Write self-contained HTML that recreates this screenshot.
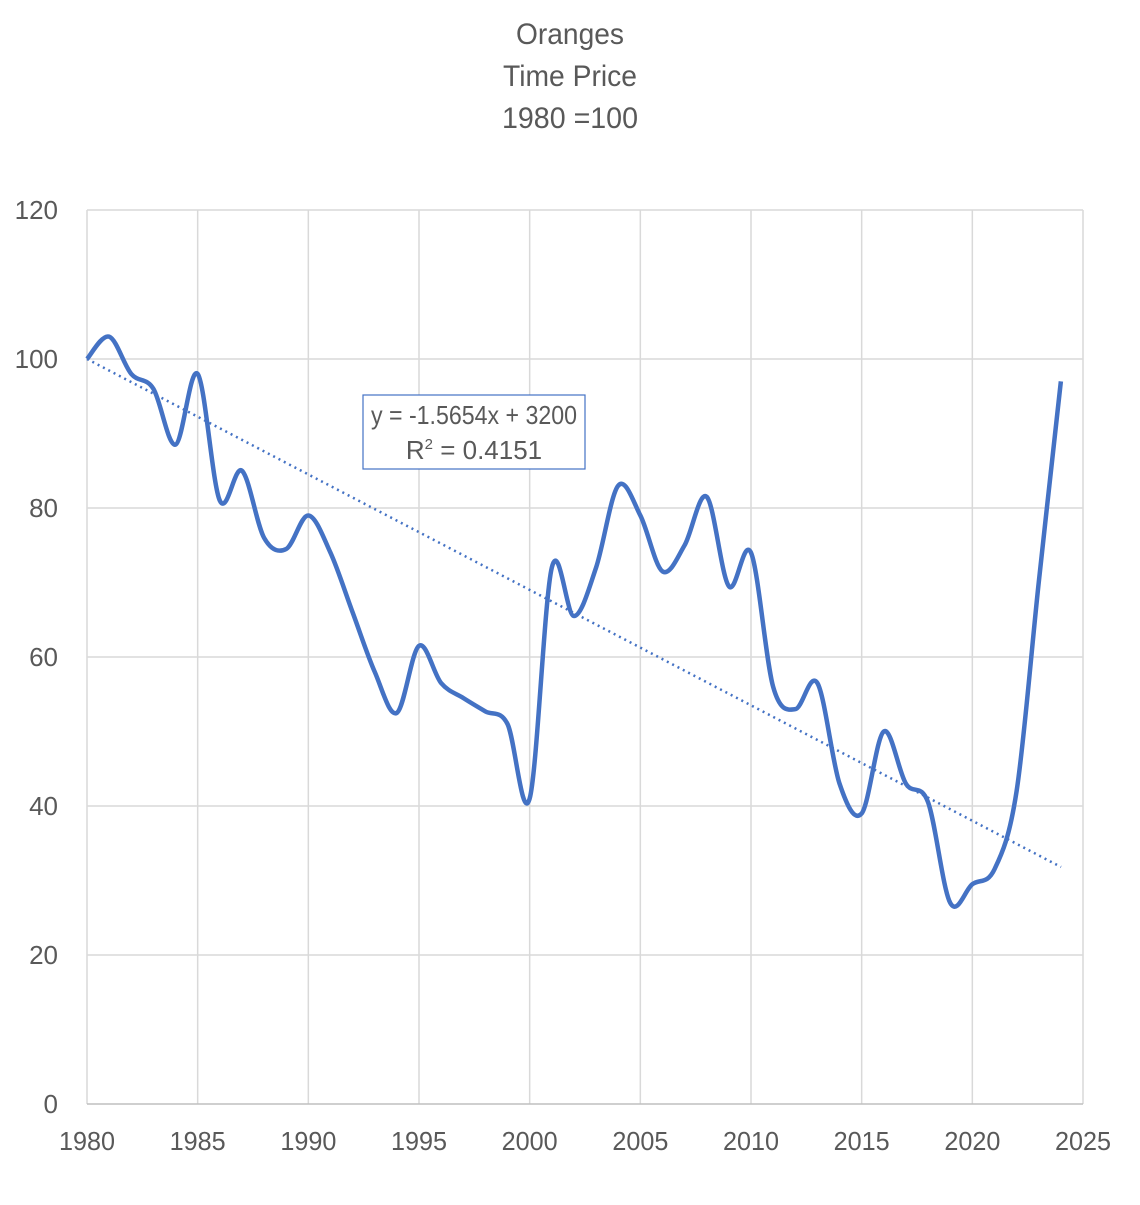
<!DOCTYPE html>
<html><head><meta charset="utf-8"><style>
body{margin:0;background:#fff}
svg text{font-family:"Liberation Sans",sans-serif;fill:#595959}
</style></head><body>
<svg id="s" width="1140" height="1200" xmlns="http://www.w3.org/2000/svg">
<rect width="1140" height="1200" fill="#fff"/>
<g text-anchor="middle" font-size="30">
<text x="570" y="44" textLength="108" lengthAdjust="spacingAndGlyphs">Oranges</text>
<text x="570" y="86" textLength="134" lengthAdjust="spacingAndGlyphs">Time Price</text>
<text x="570" y="128" textLength="136" lengthAdjust="spacingAndGlyphs">1980 =100</text>
</g>
<g id="grid" stroke="#d9d9d9" stroke-width="1.5"></g>
<g id="lab" font-size="26"></g>
<path id="trend" d="M87,359 L1061,867" stroke="#4472c4" stroke-width="2.5" stroke-dasharray="2,4" fill="none"/>
<path id="line" stroke="#4472c4" stroke-width="4.5" fill="none" stroke-linejoin="round"/>
<rect x="363" y="395" width="222" height="74" fill="#fff" stroke="#4472c4" stroke-width="1.2"/>
<g text-anchor="middle" font-size="26">
<text x="474" y="424" textLength="206" lengthAdjust="spacingAndGlyphs">y = -1.5654x + 3200</text>
<text x="474" y="459">R<tspan font-size="15" dy="-10">2</tspan><tspan dy="10"> = 0.4151</tspan></text>
</g>
</svg>
<script>
const X=y=>87+(y-1980)*996/45, Y=v=>1104-v*7.45;
const ns="http://www.w3.org/2000/svg";
const g=document.getElementById('grid'),l=document.getElementById('lab');
function mk(p,t,a){const e=document.createElementNS(ns,t);for(const k in a)e.setAttribute(k,a[k]);p.appendChild(e);return e;}
for(let v=20;v<=120;v+=20)mk(g,'line',{x1:87,x2:1083,y1:Y(v),y2:Y(v)});
for(let y=1985;y<=2025;y+=5)mk(g,'line',{x1:X(y),x2:X(y),y1:210,y2:1104});
mk(g,'line',{x1:87,x2:87,y1:210,y2:1104,stroke:'#d9d9d9'});
mk(g,'line',{x1:87,x2:1083,y1:1104,y2:1104,stroke:'#bfbfbf'});
for(let v=0;v<=120;v+=20){const t=mk(l,'text',{x:58,y:Y(v)+9,'text-anchor':'end'});t.textContent=v;}
for(let y=1980;y<=2025;y+=5){const t=mk(l,'text',{x:X(y),y:1150,'text-anchor':'middle',textLength:56,lengthAdjust:'spacingAndGlyphs'});t.textContent=y;}
const d=[100,103,98,96,88.5,98,81,85,76,74.5,79,74,66,58,52.5,61.5,56.5,54.5,52.7,51,41,72,65.5,72,83,79,71.5,75,81.5,69.5,74,56,53,56.5,43,39,50,43,40.5,27,29.5,31.5,42,70,97];
const p=d.map((v,i)=>[X(1980+i),Y(v)]);
let s=`M${p[0][0]},${p[0][1]}`;
for(let i=0;i<p.length-1;i++){const p0=p[Math.max(0,i-1)],p1=p[i],p2=p[i+1],p3=p[Math.min(p.length-1,i+2)];
s+=` C${p1[0]+(p2[0]-p0[0])/6},${p1[1]+(p2[1]-p0[1])/6} ${p2[0]-(p3[0]-p1[0])/6},${p2[1]-(p3[1]-p1[1])/6} ${p2[0]},${p2[1]}`;}
document.getElementById('line').setAttribute('d',s);
</script>
</body></html>
